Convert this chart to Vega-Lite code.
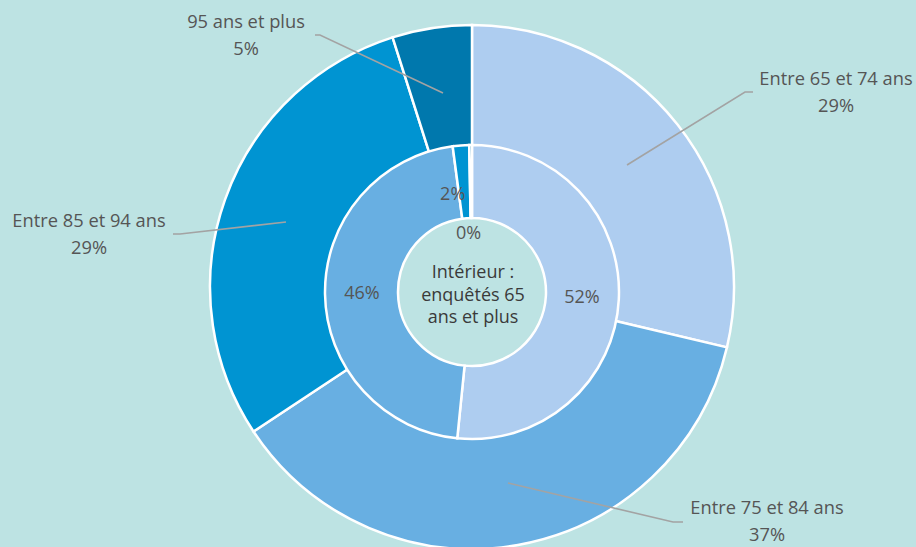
{
  "$schema": "https://vega.github.io/schema/vega-lite/v6.json",
  "width": 916,
  "height": 547,
  "autosize": {"type": "none"},
  "padding": 0,
  "background": "#bde3e3",
  "config": {"view": {"stroke": null}, "font": "Open Sans"},
  "datasets": {
    "rings": [
      {"ring": "outer", "cat": "Entre 65 et 74 ans", "order": 1, "value": 28.7, "label": "29%"},
      {"ring": "outer", "cat": "Entre 75 et 84 ans", "order": 2, "value": 37.0, "label": "37%"},
      {"ring": "outer", "cat": "Entre 85 et 94 ans", "order": 3, "value": 29.4, "label": "29%"},
      {"ring": "outer", "cat": "95 ans et plus", "order": 4, "value": 4.9, "label": "5%"},
      {"ring": "inner", "cat": "Entre 65 et 74 ans", "order": 1, "value": 51.6, "label": "52%"},
      {"ring": "inner", "cat": "Entre 75 et 84 ans", "order": 2, "value": 46.3, "label": "46%"},
      {"ring": "inner", "cat": "Entre 85 et 94 ans", "order": 3, "value": 1.8, "label": "2%"},
      {"ring": "inner", "cat": "95 ans et plus", "order": 4, "value": 0.3, "label": "0%"}
    ],
    "labels": [
      {"cat": "Entre 65 et 74 ans", "x": 364, "y": 207, "text": ["Entre 65 et 74 ans", "29%"]},
      {"cat": "Entre 75 et 84 ans", "x": 295, "y": -222, "text": ["Entre 75 et 84 ans", "37%"]},
      {"cat": "Entre 85 et 94 ans", "x": -383, "y": 65, "text": ["Entre 85 et 94 ans", "29%"]},
      {"cat": "95 ans et plus", "x": -226, "y": 264, "text": ["95 ans et plus", "5%"]}
    ],
    "leaders": [
      {"cat": "Entre 65 et 74 ans", "seq": 1, "x": 155, "y": 122},
      {"cat": "Entre 65 et 74 ans", "seq": 2, "x": 273, "y": 195},
      {"cat": "Entre 65 et 74 ans", "seq": 3, "x": 281, "y": 195},
      {"cat": "Entre 75 et 84 ans", "seq": 1, "x": 36, "y": -196},
      {"cat": "Entre 75 et 84 ans", "seq": 2, "x": 201, "y": -235},
      {"cat": "Entre 75 et 84 ans", "seq": 3, "x": 211, "y": -235},
      {"cat": "Entre 85 et 94 ans", "seq": 1, "x": -186, "y": 65},
      {"cat": "Entre 85 et 94 ans", "seq": 2, "x": -292, "y": 53},
      {"cat": "Entre 85 et 94 ans", "seq": 3, "x": -299, "y": 53},
      {"cat": "95 ans et plus", "seq": 1, "x": -29, "y": 194},
      {"cat": "95 ans et plus", "seq": 2, "x": -152, "y": 252},
      {"cat": "95 ans et plus", "seq": 3, "x": -157, "y": 252}
    ],
    "center": [{"text": ["Intérieur :", "enquêtés 65", "ans et plus"]}]
  },
  "layer": [
    {
      "data": {"name": "rings"},
      "transform": [{"filter": "datum.ring === 'outer'"}],
      "mark": {"type": "arc", "stroke": "white", "strokeWidth": 2.5},
      "encoding": {
        "theta": {"field": "value", "type": "quantitative", "stack": true},
        "order": {"field": "order", "type": "quantitative"},
        "color": {
          "field": "cat", "type": "nominal", "legend": null,
          "scale": {
            "domain": ["Entre 65 et 74 ans", "Entre 75 et 84 ans", "Entre 85 et 94 ans", "95 ans et plus"],
            "range": ["#aecdf0", "#68afe2", "#0094d2", "#0078ad"]
          }
        },
        "radius": {"value": 262},
        "radius2": {"value": 140},
        "x": {"datum": 0, "type": "quantitative", "axis": null, "scale": {"domain": [-472, 444], "nice": false, "zero": false}},
        "y": {"datum": 0, "type": "quantitative", "axis": null, "scale": {"domain": [-260, 287], "nice": false, "zero": false}}
      }
    },
    {
      "data": {"name": "rings"},
      "transform": [{"filter": "datum.ring === 'inner'"}],
      "mark": {"type": "arc", "stroke": "white", "strokeWidth": 2.5},
      "encoding": {
        "theta": {"field": "value", "type": "quantitative", "stack": true},
        "order": {"field": "order", "type": "quantitative"},
        "color": {"field": "cat", "type": "nominal", "legend": null},
        "radius": {"value": 147},
        "radius2": {"value": 74},
        "x": {"datum": 0, "type": "quantitative", "axis": null},
        "y": {"datum": -5, "type": "quantitative", "axis": null}
      }
    },
    {
      "data": {"name": "rings"},
      "transform": [{"filter": "datum.ring === 'inner'"}],
      "mark": {"type": "text", "fontSize": 18, "color": "#555555", "align": "center", "baseline": "middle"},
      "encoding": {
        "theta": {"field": "value", "type": "quantitative", "stack": true},
        "order": {"field": "order", "type": "quantitative"},
        "radius": {"value": 110},
        "text": {"condition": {"test": "datum.value > 10", "field": "label", "type": "nominal"}, "value": ""},
        "x": {"datum": 0, "type": "quantitative", "axis": null},
        "y": {"datum": -5, "type": "quantitative", "axis": null}
      }
    },
    {
      "data": {"name": "rings"},
      "transform": [{"filter": "datum.ring === 'inner'"}],
      "mark": {"type": "text", "fontSize": 18, "color": "#555555", "align": "center", "baseline": "middle", "dx": -12},
      "encoding": {
        "theta": {"field": "value", "type": "quantitative", "stack": true},
        "order": {"field": "order", "type": "quantitative"},
        "radius": {"value": 97},
        "text": {"condition": {"test": "datum.cat === 'Entre 85 et 94 ans'", "field": "label", "type": "nominal"}, "value": ""},
        "x": {"datum": 0, "type": "quantitative", "axis": null},
        "y": {"datum": -5, "type": "quantitative", "axis": null}
      }
    },
    {
      "data": {"name": "rings"},
      "transform": [{"filter": "datum.ring === 'inner'"}],
      "mark": {"type": "text", "fontSize": 18, "color": "#555555", "align": "center", "baseline": "middle", "dx": -3},
      "encoding": {
        "theta": {"field": "value", "type": "quantitative", "stack": true},
        "order": {"field": "order", "type": "quantitative"},
        "radius": {"value": 58},
        "text": {"condition": {"test": "datum.cat === '95 ans et plus'", "field": "label", "type": "nominal"}, "value": ""},
        "x": {"datum": 0, "type": "quantitative", "axis": null},
        "y": {"datum": -5, "type": "quantitative", "axis": null}
      }
    },
    {
      "data": {"name": "leaders"},
      "mark": {"type": "line", "color": "#a3a3a3", "strokeWidth": 1.6},
      "encoding": {
        "x": {"field": "x", "type": "quantitative", "axis": null},
        "y": {"field": "y", "type": "quantitative", "axis": null},
        "detail": {"field": "cat", "type": "nominal"},
        "order": {"field": "seq", "type": "quantitative"}
      }
    },
    {
      "data": {"name": "labels"},
      "mark": {"type": "text", "fontSize": 18.3, "color": "#555555", "align": "center", "baseline": "middle", "lineHeight": 27},
      "encoding": {
        "x": {"field": "x", "type": "quantitative", "axis": null},
        "y": {"field": "y", "type": "quantitative", "axis": null},
        "text": {"field": "text", "type": "nominal"}
      }
    },
    {
      "data": {"name": "center"},
      "mark": {"type": "text", "fontSize": 18, "color": "#3a3a3a", "align": "center", "baseline": "middle", "lineHeight": 22.5},
      "encoding": {
        "x": {"datum": 1, "type": "quantitative", "axis": null},
        "y": {"datum": 14, "type": "quantitative", "axis": null},
        "text": {"field": "text", "type": "nominal"}
      }
    }
  ]
}
